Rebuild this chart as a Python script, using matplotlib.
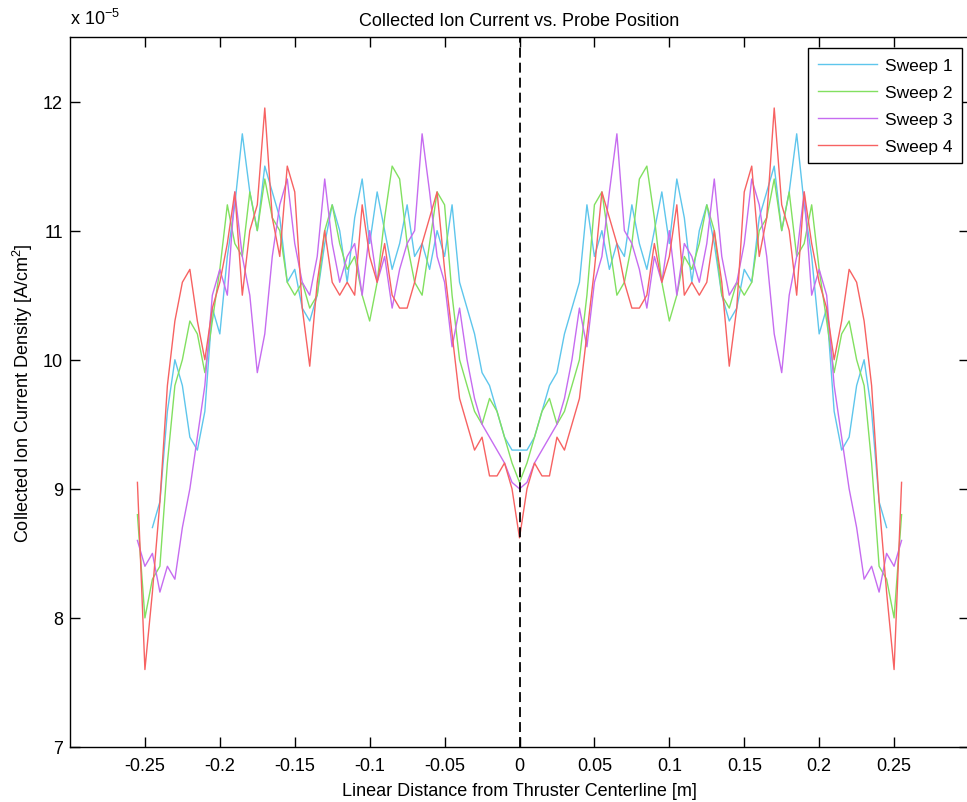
import numpy as np
import matplotlib
matplotlib.use("Agg")
import matplotlib.pyplot as plt

plt.rcParams['font.family'] = ['Liberation Sans', 'DejaVu Sans']
plt.rcParams['mathtext.fontset'] = 'custom'
plt.rcParams['mathtext.rm'] = 'Liberation Sans'
plt.rcParams['mathtext.it'] = 'Liberation Sans'

# Probe positions for one half of the sweep (m); the sweep is symmetric about the centerline
x_half = np.round(np.arange(-0.255, 0.0001, 0.005), 3)

# Current density samples (units of 1e-5 A/cm^2) on x_half
sweep1_half = [np.nan, np.nan, 8.7, 8.9, 9.6, 10.0, 9.8, 9.4, 9.3, 9.6,
               10.4, 10.2, 10.8, 11.2, 11.75, 11.3, 11.0, 11.5, 11.3, 11.1,
               10.6, 10.7, 10.4, 10.3, 10.5, 10.9, 11.2, 11.0, 10.6, 11.1,
               11.4, 10.9, 11.3, 11.0, 10.7, 10.9, 11.2, 10.8, 10.9, 10.7,
               11.0, 10.8, 11.2, 10.6, 10.4, 10.2, 9.9, 9.8, 9.6, 9.4,
               9.3, 9.3]
sweep2_half = [8.8, 8.0, 8.3, 8.4, 9.2, 9.8, 10.0, 10.3, 10.2, 9.9,
               10.3, 10.7, 11.2, 10.9, 10.8, 11.3, 11.0, 11.4, 11.1, 11.0,
               10.6, 10.5, 10.6, 10.4, 10.5, 11.0, 11.2, 10.9, 10.7, 10.8,
               10.5, 10.3, 10.6, 11.1, 11.5, 11.4, 10.9, 10.6, 10.5, 10.9,
               11.3, 11.2, 10.5, 10.0, 9.8, 9.6, 9.5, 9.7, 9.6, 9.4,
               9.2, 9.05]
sweep3_half = [8.6, 8.4, 8.5, 8.2, 8.4, 8.3, 8.7, 9.0, 9.4, 9.8,
               10.5, 10.7, 10.5, 11.3, 10.8, 10.5, 9.9, 10.2, 10.8, 11.2,
               11.4, 10.9, 10.6, 10.5, 10.8, 11.4, 10.9, 10.6, 10.8, 10.9,
               10.5, 11.0, 10.6, 10.8, 10.4, 10.7, 10.9, 11.0, 11.75, 11.3,
               10.8, 10.6, 10.1, 10.4, 10.0, 9.7, 9.5, 9.4, 9.3, 9.2,
               9.05, 9.0]
sweep4_half = [9.05, 7.6, 8.2, 8.9, 9.8, 10.3, 10.6, 10.7, 10.3, 10.0,
               10.4, 10.6, 10.9, 11.3, 10.5, 11.0, 11.2, 11.95, 11.1, 10.8,
               11.5, 11.3, 10.4, 9.95, 10.6, 11.0, 10.6, 10.5, 10.6, 10.5,
               11.2, 10.8, 10.6, 10.9, 10.5, 10.4, 10.4, 10.6, 10.9, 11.1,
               11.3, 10.7, 10.2, 9.7, 9.5, 9.3, 9.4, 9.1, 9.1, 9.2,
               9.0, 8.62]

labels = ['Sweep 1', 'Sweep 2', 'Sweep 3', 'Sweep 4']
colors = ['#5EC6EC', '#82E060', '#C66CF0', '#F76262']
scale = 1e-5

x_full = np.concatenate([x_half, -x_half[::-1][1:]])


def mirror(vals):
    v = np.asarray(vals, dtype=float)
    return np.concatenate([v, v[::-1][1:]]) * scale


fig = plt.figure(figsize=(9.67, 8.03), dpi=100)
ax = fig.add_axes([70 / 967, 1 - 748 / 803, 899 / 967, 710 / 803])

for vals, lab, col in zip([sweep1_half, sweep2_half, sweep3_half, sweep4_half],
                          labels, colors):
    ax.plot(x_full, mirror(vals), color=col, lw=1.0, label=lab)

ax.axvline(0, color='black', lw=1.3, dashes=(5.5, 2.8), zorder=5)

ax.set_xlim(-0.3, 0.3)
ax.set_ylim(7e-5, 12.5e-5)
ax.set_xticks([-0.25, -0.2, -0.15, -0.1, -0.05, 0, 0.05, 0.1, 0.15, 0.2, 0.25])
ax.set_xticklabels(['-0.25', '-0.2', '-0.15', '-0.1', '-0.05', '0',
                    '0.05', '0.1', '0.15', '0.2', '0.25'])
yt = [7, 8, 9, 10, 11, 12]
ax.set_yticks([v * scale for v in yt])
ax.set_yticklabels([str(v) for v in yt])
ax.tick_params(direction='in', length=7, width=1, top=True, right=True,
               labelsize=13, colors='black')
ax.tick_params(axis='x', pad=7)
ax.tick_params(axis='y', pad=5)
for s in ax.spines.values():
    s.set_linewidth(1.0)

ax.text(0.0, 1.012, r'x 10$^{-5}$', transform=ax.transAxes, fontsize=13,
        ha='left', va='bottom')
ax.set_title('Collected Ion Current vs. Probe Position', fontsize=13, pad=9)
ax.set_xlabel('Linear Distance from Thruster Centerline [m]', fontsize=13,
              labelpad=6)
ax.set_ylabel('Collected Ion Current Density [A/cm$^2$]', fontsize=13,
              labelpad=6)

leg = ax.legend(loc='upper right', bbox_to_anchor=(962 / 967, 1 - 49 / 803),
                bbox_transform=fig.transFigure, borderaxespad=0,
                fancybox=False, framealpha=1, edgecolor='black', fontsize=12.5,
                handlelength=3.4, handletextpad=0.45, labelspacing=0.68,
                borderpad=0.55)
leg.get_frame().set_linewidth(1.0)

fig.savefig('out.png', dpi=100)
